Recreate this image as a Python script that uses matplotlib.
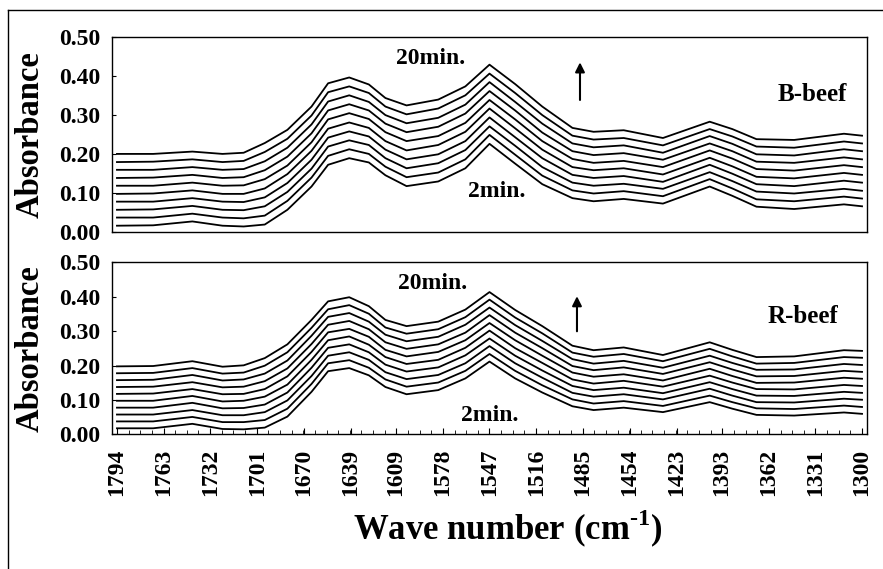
import numpy as np
import matplotlib.pyplot as plt
from matplotlib.lines import Line2D

plt.rcParams['font.family'] = ['Liberation Serif', 'DejaVu Serif']
plt.rcParams['font.weight'] = 'bold'
plt.rcParams['mathtext.fontset'] = 'custom'
plt.rcParams['mathtext.rm'] = 'Liberation Serif:bold'
plt.rcParams['mathtext.bf'] = 'Liberation Serif:bold'

# wave numbers (cm-1) where the spectra were read
wavenumber = [1794, 1770, 1744, 1724, 1710, 1696, 1681, 1665, 1654, 1640,
              1627, 1616, 1602, 1581, 1563, 1547, 1530, 1512, 1492, 1478,
              1458, 1432, 1401, 1386, 1370, 1345, 1312, 1300]

times = ['2min', '4min', '6min', '8min', '10min', '12min', '14min', '16min', '18min', '20min']

# B-beef, one row per time (2 min at the bottom, 20 min at the top)
b_beef = [
    [.015, .016, .026, .015, .013, .018, .056, .116, .172, .189, .178, .145, .117, .129, .163, .226, .175, .122, .086, .078, .084, .072, .116, .092, .064, .058, .070, .065],
    [.036, .036, .046, .036, .034, .041, .079, .139, .195, .212, .200, .167, .140, .152, .186, .249, .198, .144, .106, .098, .104, .091, .135, .111, .083, .078, .090, .085],
    [.056, .057, .066, .056, .055, .065, .102, .162, .219, .235, .223, .189, .163, .176, .210, .271, .221, .166, .126, .118, .123, .110, .153, .130, .103, .098, .110, .105],
    [.077, .077, .086, .077, .076, .088, .125, .185, .242, .258, .245, .211, .186, .199, .233, .294, .243, .189, .146, .138, .143, .128, .172, .149, .122, .117, .131, .126],
    [.097, .098, .106, .097, .097, .111, .148, .208, .265, .281, .267, .233, .209, .223, .257, .317, .266, .211, .166, .158, .163, .147, .190, .168, .141, .137, .151, .146],
    [.118, .118, .126, .118, .119, .135, .170, .230, .289, .305, .290, .256, .233, .246, .280, .339, .289, .233, .187, .177, .182, .166, .209, .188, .161, .157, .171, .166],
    [.138, .139, .146, .138, .140, .158, .193, .253, .312, .328, .312, .278, .256, .270, .304, .362, .312, .255, .207, .197, .202, .185, .227, .207, .180, .177, .191, .186],
    [.159, .159, .166, .159, .161, .181, .216, .276, .335, .351, .334, .300, .279, .293, .327, .385, .334, .278, .227, .217, .222, .203, .246, .226, .199, .196, .212, .207],
    [.179, .180, .186, .179, .182, .205, .239, .299, .359, .374, .357, .322, .302, .317, .351, .407, .357, .300, .247, .237, .241, .222, .264, .245, .219, .216, .232, .227],
    [.200, .200, .206, .200, .203, .228, .262, .322, .382, .397, .379, .344, .325, .340, .374, .430, .380, .322, .267, .257, .261, .241, .283, .264, .238, .236, .252, .247],
]

# R-beef
r_beef = [
    [.018, .018, .031, .016, .015, .020, .052, .124, .184, .193, .172, .138, .117, .129, .163, .212, .163, .122, .082, .071, .078, .065, .094, .075, .057, .055, .064, .060],
    [.038, .038, .051, .036, .036, .042, .075, .147, .207, .216, .194, .160, .139, .151, .185, .234, .185, .143, .102, .090, .097, .083, .113, .094, .076, .074, .084, .080],
    [.058, .058, .071, .056, .056, .065, .099, .170, .229, .239, .217, .181, .161, .173, .207, .257, .207, .165, .121, .110, .117, .102, .133, .113, .094, .093, .104, .101],
    [.078, .078, .092, .076, .077, .087, .122, .194, .252, .262, .239, .203, .183, .195, .230, .279, .229, .186, .141, .129, .136, .120, .152, .132, .113, .112, .124, .121],
    [.098, .098, .112, .096, .098, .110, .145, .217, .274, .285, .261, .225, .205, .217, .252, .302, .251, .208, .160, .148, .156, .139, .171, .151, .132, .131, .144, .141],
    [.118, .119, .132, .117, .118, .132, .169, .240, .297, .307, .284, .246, .227, .240, .274, .324, .274, .229, .180, .168, .175, .157, .191, .170, .150, .151, .165, .162],
    [.138, .139, .152, .137, .139, .155, .192, .263, .319, .330, .306, .268, .249, .262, .296, .347, .296, .251, .199, .187, .195, .176, .210, .189, .169, .170, .185, .182],
    [.158, .159, .173, .157, .160, .177, .215, .287, .342, .353, .328, .290, .271, .284, .319, .369, .318, .272, .219, .206, .214, .194, .229, .208, .188, .189, .205, .202],
    [.178, .179, .193, .177, .180, .200, .239, .310, .364, .376, .351, .311, .293, .306, .341, .392, .340, .294, .238, .226, .234, .213, .249, .227, .206, .208, .225, .223],
    [.198, .199, .213, .197, .201, .222, .262, .333, .387, .399, .373, .333, .315, .328, .363, .414, .362, .315, .258, .245, .253, .231, .268, .246, .225, .227, .245, .243],
]

tick_values = [1794, 1763, 1732, 1701, 1670, 1639, 1609, 1578, 1547, 1516,
               1485, 1454, 1423, 1393, 1362, 1331, 1300]
tick_labels = [str(v) for v in tick_values]

fig = plt.figure(figsize=(8.83, 5.69), dpi=100)
ax1 = fig.add_axes([0.1263, 0.5931, 0.8556, 0.3410])
ax2 = fig.add_axes([0.1263, 0.2364, 0.8556, 0.3023])

panels = [(ax1, b_beef, 'B-beef'), (ax2, r_beef, 'R-beef')]
for ax, spectra, name in panels:
    for row in spectra:
        ax.plot(wavenumber, row, color='k', lw=1.3)
    ax.set_xlim(1797.6, 1296.7)
    ax.set_ylim(0, 0.5)
    ax.set_yticks(np.arange(0, 0.51, 0.1))
    ax.yaxis.set_major_formatter('{x:.2f}')
    ax.tick_params(axis='y', direction='in', length=3, labelsize=17, pad=8)
    ax.set_ylabel('Absorbance', fontsize=23.5, fontweight='bold')
    ax.yaxis.set_label_coords(-0.087, 0.5)
    for s in ax.spines.values():
        s.set_linewidth(1.0)

# labels inside panels
ax1.text(1586, 0.447, '20min.', fontsize=17, ha='center', va='center')
ax1.text(1542, 0.102, '2min.', fontsize=17, ha='center', va='center')
ax1.text(1333, 0.352, 'B-beef', fontsize=18, ha='center', va='center')
ax1.annotate('', xy=(1487, 0.436), xytext=(1487, 0.339),
             arrowprops=dict(arrowstyle='-|>', color='k', lw=1.5,
                             mutation_scale=14, shrinkA=0, shrinkB=0))

ax2.text(1585, 0.44, '20min.', fontsize=17, ha='center', va='center')
ax2.text(1547, 0.056, '2min.', fontsize=17, ha='center', va='center')
ax2.text(1339, 0.342, 'R-beef', fontsize=18, ha='center', va='center')
ax2.annotate('', xy=(1489, 0.402), xytext=(1489, 0.300),
             arrowprops=dict(arrowstyle='-|>', color='k', lw=1.5,
                             mutation_scale=14, shrinkA=0, shrinkB=0))

ax1.tick_params(axis='x', bottom=False, labelbottom=False)
ax2.set_xticks(tick_values, tick_labels, rotation=90)
ax2.set_xticks(np.linspace(1794, 1300, 65), minor=True)
ax2.tick_params(axis='x', which='major', direction='in', length=4, labelsize=17, pad=10)
ax2.tick_params(axis='x', which='minor', direction='in', length=3)
ax2.set_xlabel(r'Wave number (cm$^{\text{-1}}$)', fontsize=25, fontweight='bold')
ax2.xaxis.set_label_coords(0.525, -0.425)

# outer frame of the figure
fig.add_artist(Line2D([8 / 883, 1.0], [1 - 10 / 569] * 2, transform=fig.transFigure, color='k', lw=1))
fig.add_artist(Line2D([8 / 883] * 2, [1 - 10 / 569, 0.0], transform=fig.transFigure, color='k', lw=1))

fig.savefig('out.png', dpi=100)
